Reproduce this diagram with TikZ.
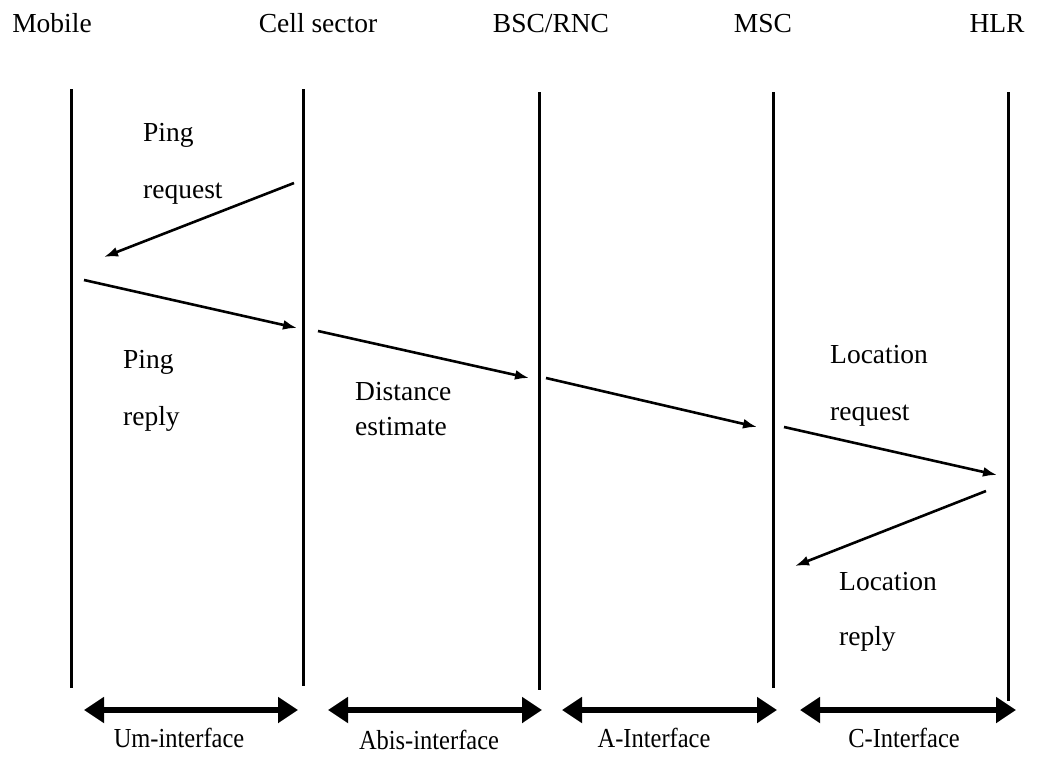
\documentclass[tikz,border=0pt]{standalone}
\usepackage{fontspec}
\setmainfont{Liberation Serif}
\newfontfamily\narrowserif[FakeStretch=0.89]{Liberation Serif}
\usetikzlibrary{arrows.meta}
\begin{document}
\begin{tikzpicture}[x=1pt,y=-1pt,
  lifeline/.style={line width=3pt},
  msg/.style={line width=2.6pt,-{Latex[length=14pt,width=10pt]}},
  iface/.style={line width=5.5pt,{Triangle[length=20pt,width=25pt]}-{Triangle[length=20pt,width=25pt]}},
  hdr/.style={inner sep=0pt,text height=0.66em,text depth=0.22em,font=\fontsize{27.5pt}{33pt}\selectfont},
  lbl/.style={inner sep=0pt,anchor=west,text height=0.66em,text depth=0.22em,font=\fontsize{27.5pt}{33pt}\selectfont},
  ilbl/.style={inner sep=0pt,text height=0.66em,text depth=0.22em,font=\narrowserif\fontsize{27.5pt}{33pt}\selectfont}]
\useasboundingbox (0,0) rectangle (1038,756);
\fill[white] (0,0) rectangle (1038,756);

% entity headers
\node[hdr] (hMob) at (52,30) {Mobile};
\node[hdr] (hCell) at (318,30) {Cell sector};
\node[hdr] (hBsc) at (551,30) {BSC/RNC};
\node[hdr] (hMsc) at (763,30) {MSC};
\node[hdr] (hHlr) at (997,30) {HLR};

% lifelines
\coordinate (mobT) at (71,89);   \coordinate (mobB) at (71,688);
\coordinate (celT) at (303,89);  \coordinate (celB) at (303,686);
\coordinate (bscT) at (539,92);  \coordinate (bscB) at (539,690);
\coordinate (mscT) at (773,92);  \coordinate (mscB) at (773,688);
\coordinate (hlrT) at (1008,92); \coordinate (hlrB) at (1008,701);
\draw[lifeline] (mobT) -- (mobB);
\draw[lifeline] (celT) -- (celB);
\draw[lifeline] (bscT) -- (bscB);
\draw[lifeline] (mscT) -- (mscB);
\draw[lifeline] (hlrT) -- (hlrB);

% message end points
\coordinate (m1a) at (294,183); \coordinate (m1b) at (104,257);
\coordinate (m2a) at (84,280);  \coordinate (m2b) at (297,328);
\coordinate (m3a) at (318,331); \coordinate (m3b) at (529,378);
\coordinate (m4a) at (546,378); \coordinate (m4b) at (757,427);
\coordinate (m5a) at (784,427); \coordinate (m5b) at (997,475);
\coordinate (m6a) at (986,491); \coordinate (m6b) at (795,566);
\draw[msg] (m1a) -- (m1b);
\draw[msg] (m2a) -- (m2b);
\draw[msg] (m3a) -- (m3b);
\draw[msg] (m4a) -- (m4b);
\draw[msg] (m5a) -- (m5b);
\draw[msg] (m6a) -- (m6b);

% message labels
\node[lbl] (l1a) at (143,139) {Ping};
\node[lbl] (l1b) at (143,196) {request};
\node[lbl] (l2a) at (123,366) {Ping};
\node[lbl] (l2b) at (123,423) {reply};
\node[lbl] (l3a) at (355,398) {Distance};
\node[lbl] (l3b) at (355,433) {estimate};
\node[lbl] (l4a) at (830,361) {Location};
\node[lbl] (l4b) at (830,418) {request};
\node[lbl] (l5a) at (839,588) {Location};
\node[lbl] (l5b) at (839,643) {reply};

% interfaces
\coordinate (i1a) at (84,710);  \coordinate (i1b) at (298,710);
\coordinate (i2a) at (328,710); \coordinate (i2b) at (542,710);
\coordinate (i3a) at (562,710); \coordinate (i3b) at (777,710);
\coordinate (i4a) at (800,710); \coordinate (i4b) at (1016,710);
\draw[iface] (i1a) -- (i1b);
\draw[iface] (i2a) -- (i2b);
\draw[iface] (i3a) -- (i3b);
\draw[iface] (i4a) -- (i4b);
\node[ilbl] (t1) at (179,745) {Um-interface};
\node[ilbl] (t2) at (429,747) {Abis-interface};
\node[ilbl] (t3) at (654,745) {A-Interface};
\node[ilbl] (t4) at (904,745) {C-Interface};
\end{tikzpicture}
\end{document}
